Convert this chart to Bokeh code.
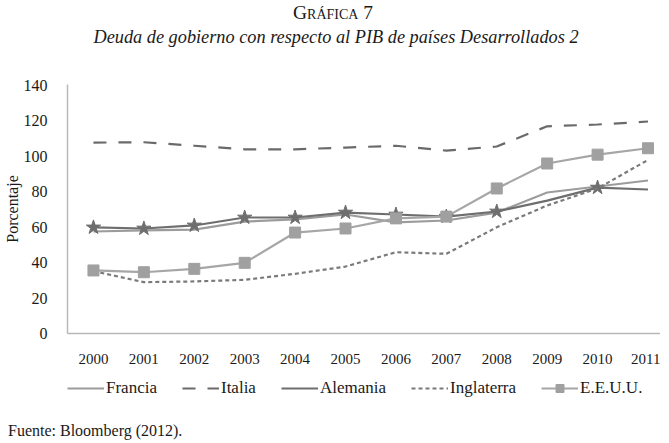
from bokeh.plotting import figure
from bokeh.layouts import column
from bokeh.models import Range1d, FixedTicker, Legend, LegendItem, ColumnDataSource, Div
from bokeh.embed import file_html
from bokeh.resources import INLINE

# ---- data -------------------------------------------------------------
anios = [2000, 2001, 2002, 2003, 2004, 2005, 2006, 2007, 2008, 2009, 2010, 2011]
francia = [57.6, 58.2, 58.7, 63.2, 64.4, 67.2, 62.7, 63.8, 68.3, 79.6, 83.0, 86.4]
italia = [107.8, 108.0, 106.0, 104.0, 104.0, 105.0, 106.0, 103.3, 105.6, 117.0, 118.0, 119.7]
alemania = [59.9, 59.3, 61.0, 65.5, 65.5, 68.3, 67.2, 66.0, 68.9, 75.0, 82.4, 81.3]
inglaterra = [35.2, 29.0, 29.4, 30.3, 33.7, 37.8, 45.9, 45.0, 60.0, 72.3, 81.9, 98.0]
eeuu = [35.6, 34.6, 36.5, 39.9, 57.0, 59.3, 65.0, 66.0, 81.9, 96.0, 101.0, 104.6]
alemania_con_estrella = [True, True, True, True, True, True, True, True, True, False, True, False]
y_ticks = [0, 20, 40, 60, 80, 100, 120, 140]

titulo = "Gráfica 7"
subtitulo = "Deuda de gobierno con respecto al PIB de países Desarrollados 2"
fuente = "Fuente: Bloomberg (2012)."
eje_y = "Porcentaje"
series = ["Francia", "Italia", "Alemania", "Inglaterra", "E.E.U.U."]

SERIF = "Liberation Serif"
TXT = "#1a1a1a"
W = 660

estilos = {
    "Francia": ("#9c9c9c", "solid"),
    "Italia": ("#6a6a6a", "13 12"),
    "Alemania": ("#6e6e6e", "solid"),
    "Inglaterra": ("#7a7a7a", "4 3"),
    "E.E.U.U.": ("#a6a6a6", "solid"),
}
SQUARE_COLOR = "#a0a0a0"
STAR_COLOR = "#6e6e6e"

# ---- title block (HTML, small caps) ------------------------------------
titulo_html = (
    f'<div style="width:{W}px;box-sizing:border-box;padding-top:2px">'
    f'<div style="font-variant:small-caps;font-size:19.5px;line-height:22px;'
    f'text-align:center;padding-left:6px;margin:0">{titulo}</div>'
    f'<div style="font-style:italic;font-size:18.3px;line-height:24px;'
    f'text-align:center;padding-left:12px;margin:1px 0 0 0">{subtitulo}</div>'
    f'</div>'
)
div_titulo = Div(text=titulo_html, width=W, height=72, margin=0,
                 styles={"font-family": SERIF, "color": TXT})

# ---- main chart -------------------------------------------------------
p = figure(width=W, height=298, output_backend="svg", toolbar_location=None,
           x_range=Range1d(1999.485, 2011.248), y_range=Range1d(0, 140.6),
           min_border_left=66, min_border_right=0, min_border_top=12,
           min_border_bottom=37)
p.outline_line_color = None
p.background_fill_color = "white"
p.border_fill_color = "white"
p.xgrid.visible = False
p.ygrid.visible = False

for ax in (p.xaxis[0], p.yaxis[0]):
    ax.major_tick_line_color = None
    ax.minor_tick_line_color = None
    ax.axis_line_color = "#b8b8b8"
    ax.axis_line_width = 1.5
    ax.major_label_text_font = SERIF
    ax.major_label_text_color = TXT

p.xaxis[0].ticker = FixedTicker(ticks=anios)
p.xaxis[0].major_label_text_font_size = "15px"
p.xaxis[0].major_label_standoff = 14
p.yaxis[0].ticker = FixedTicker(ticks=y_ticks)
p.yaxis[0].major_label_text_font_size = "16px"
p.yaxis[0].major_label_standoff = 14
p.yaxis[0].axis_label = eje_y
p.yaxis[0].axis_label_text_font = SERIF
p.yaxis[0].axis_label_text_font_size = "16px"
p.yaxis[0].axis_label_text_font_style = "normal"
p.yaxis[0].axis_label_text_color = TXT
p.yaxis[0].axis_label_standoff = 0

src = ColumnDataSource(dict(x=anios, Francia=francia, Italia=italia,
                            Alemania=alemania, Inglaterra=inglaterra,
                            EEUU=eeuu))
col = {"Francia": "Francia", "Italia": "Italia", "Alemania": "Alemania",
       "Inglaterra": "Inglaterra", "E.E.U.U.": "EEUU"}


def draw(fig):
    rs = {}
    for s in series:
        c, d = estilos[s]
        rs[s] = [fig.line("x", col[s], source=src, line_color=c,
                          line_width=2.2, line_dash=d)]
        if s == "Alemania":
            sx = [a for a, m in zip(anios, alemania_con_estrella) if m]
            sy = [v for v, m in zip(alemania, alemania_con_estrella) if m]
            fig.scatter(sx, sy, marker="star", size=15,
                        fill_color=STAR_COLOR, line_color=STAR_COLOR)
        if s == "E.E.U.U.":
            rs[s].append(fig.scatter("x", col[s], source=src, marker="square",
                                     size=11, fill_color=SQUARE_COLOR,
                                     line_color=SQUARE_COLOR))
    return rs


draw(p)

# ---- legend strip (series drawn out of view, only the legend shows) ----
LH = 52
fl = figure(width=W, height=LH, output_backend="svg", toolbar_location=None,
            x_range=Range1d(0, 1), y_range=Range1d(0, 1),
            min_border_left=66, min_border_right=0, min_border_top=0,
            min_border_bottom=0)
fl.axis.visible = False
fl.grid.visible = False
fl.outline_line_color = None
fl.background_fill_color = "white"
fl.border_fill_color = "white"
rl = draw(fl)
legend = Legend(items=[LegendItem(label=s, renderers=rl[s]) for s in series],
                orientation="horizontal", location=(0, LH - 28))
legend.border_line_color = None
legend.background_fill_alpha = 0
legend.padding = 0
legend.margin = 0
legend.spacing = 25
legend.glyph_width = 37
legend.label_standoff = 2
legend.label_text_font = SERIF
legend.label_text_font_size = "17px"
legend.label_text_color = TXT
fl.add_layout(legend, "center")

# ---- source line ------------------------------------------------------
div_fuente = Div(text=fuente, width=W, height=18, margin=0,
                 styles={"font-family": SERIF, "font-size": "16px",
                         "line-height": "18px", "color": TXT,
                         "padding-left": "8px", "box-sizing": "border-box"})

layout = column(div_titulo, p, fl, div_fuente, spacing=0)
open("out.html", "w").write(file_html(layout, INLINE))
